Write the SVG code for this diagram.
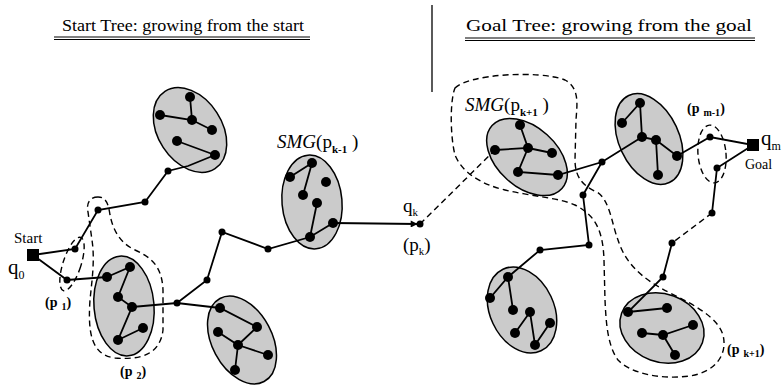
<svg xmlns="http://www.w3.org/2000/svg" width="783" height="386" viewBox="0 0 783 386">
<defs>
<marker id="arr" viewBox="0 0 10 10" refX="9" refY="5" markerWidth="9" markerHeight="7" markerUnits="userSpaceOnUse" orient="auto"><path d="M0,0 L10,5 L0,10 z" fill="#000"/></marker>
</defs>
<style>
.t{font-family:"Liberation Serif","Times New Roman",serif;fill:#000}
.e{fill:#cbcbcb;stroke:#000;stroke-width:1.5}
.l{stroke:#000;stroke-width:1.8;fill:none}
.d{stroke:#000;stroke-width:1.4;fill:none;stroke-dasharray:6 4}
.n{fill:#000}
</style>
<rect width="783" height="386" fill="#fff"/>
<g id="titles">
<text class="t" x="62" y="31" font-size="16" textLength="242" lengthAdjust="spacingAndGlyphs">Start Tree: growing from the start</text>
<line x1="54" y1="37" x2="310" y2="37" stroke="#000" stroke-width="1.2"/>
<line x1="54" y1="39.5" x2="310" y2="39.5" stroke="#000" stroke-width="1.2"/>
<text class="t" x="466" y="31" font-size="16" textLength="286" lengthAdjust="spacingAndGlyphs">Goal Tree: growing from the goal</text>
<line x1="465" y1="38" x2="755" y2="38" stroke="#000" stroke-width="1.2"/>
<line x1="465" y1="40.5" x2="755" y2="40.5" stroke="#000" stroke-width="1.2"/>
<line x1="432" y1="5" x2="432" y2="92" stroke="#000" stroke-width="1.3"/>
</g>
<g id="regions">
<ellipse id="p1-region" class="d" cx="72" cy="264" rx="9" ry="28" transform="rotate(18 72 264)"/>
<path id="p2-region" class="d" d="M98,197 C90,197 86,203 88,212 L92,240 C95,260 92,280 90,300 C88,330 90,355 115,358 C140,360 160,355 163,330 L163,290 C162,265 150,257 135,250 C120,243 113,230 110,215 C108,200 104,197 98,197 Z"/>
<path id="pk1-region" class="d" d="M455,88 C468,74 540,70 565,80 C580,88 577,105 576,120 L575,160 C575,176 582,186 597,192 C610,200 612,225 618,240 C625,262 640,278 670,293 C695,305 718,318 723,335 C728,355 715,372 690,376 C660,380 630,373 618,360 C607,345 606,320 605,300 L604,260 C603,230 595,215 575,205 C560,198 530,196 505,190 C480,184 462,172 455,155 C450,135 450,100 455,88 Z"/>
<ellipse id="pm1-region" class="d" cx="712" cy="154" rx="14" ry="29" transform="rotate(-5 712 154)"/>
</g>
<g id="smg-ellipses">
<ellipse id="e1" class="e" cx="190" cy="130" rx="32" ry="46" transform="rotate(-33 190 130)"/>
<ellipse id="e2" class="e" cx="124" cy="306" rx="30" ry="50" transform="rotate(-5 124 306)"/>
<ellipse id="e3" class="e" cx="242" cy="340" rx="30" ry="47" transform="rotate(-28 242 340)"/>
<ellipse id="e4" class="e" cx="312" cy="202" rx="30" ry="47" transform="rotate(-5 312 202)"/>
<ellipse id="e5" class="e" cx="527" cy="157" rx="30" ry="47" transform="rotate(-48 527 157)"/>
<ellipse id="e6" class="e" cx="649" cy="139" rx="30" ry="48" transform="rotate(-25 649 139)"/>
<ellipse id="e7" class="e" cx="522" cy="310" rx="32" ry="45" transform="rotate(-25 522 310)"/>
<ellipse id="e8" class="e" cx="662" cy="328" rx="43" ry="34" transform="rotate(20 662 328)"/>
</g>
<g id="connectors">
<path class="l" d="M33,255 L75,249 L98,210 L145,202 L168,171 L188,166 L215,155"/>
<path class="l" d="M33,255 L67,280 L107,277"/>
<path class="l" d="M190,97 L192,120 M160,115 L192,120 L212,130 M177,141 L215,155"/>
<path class="l" d="M107,277 L130,267 L118,297 L132,307 L118,340 L143,328"/>
<path class="l" d="M132,307 L177,303 L220,308 L257,327 L238,345 L218,332 M238,345 L268,355 M238,345 L235,370"/>
<path class="l" d="M177,303 L207,280 L222,232 L268,249 L310,237 L333,223 M310,237 L317,203 M312,163 L290,177 M312,163 L303,195"/>
<line class="l" x1="333" y1="223" x2="417" y2="224" marker-end="url(#arr)" stroke-width="1.5"/>
<line class="d" x1="420" y1="224" x2="495" y2="150" stroke-width="1.6"/>
<path class="l" d="M520,125 L528,148 L495,150 M528,148 L552,153 M528,148 L518,172 L558,175 L602,162 L642,137 M602,162 L583,195 L589,245 L540,250 L508,277 L490,298 M508,277 L513,310 M515,333 L530,312 L535,345 L550,323"/>
<path class="l" d="M622,123 L640,103 L642,137 L656,140 L658,175 M656,140 L677,156 L710,137 L753,145 L717,168 L712,213"/>
<line class="d" x1="712" y1="213" x2="672" y2="243" stroke-width="1.8"/>
<path class="l" d="M672,243 L663,277 L628,312 L667,308 M642,333 L663,335 L693,325 M663,335 L675,355"/>
</g>
<g id="nodes">
<rect x="27" y="249" width="12" height="12" class="n"/>
<rect x="747" y="139" width="12" height="12" class="n"/>
<g class="n">
<circle cx="75" cy="249" r="3.5"/><circle cx="67" cy="280" r="3.5"/><circle cx="98" cy="210" r="3.5"/><circle cx="145" cy="202" r="3.5"/><circle cx="168" cy="171" r="3.5"/>
<circle cx="190" cy="97" r="5"/><circle cx="160" cy="115" r="5"/><circle cx="192" cy="120" r="5"/><circle cx="212" cy="130" r="5"/><circle cx="177" cy="141" r="5"/><circle cx="215" cy="155" r="5"/>
<circle cx="107" cy="277" r="5"/><circle cx="130" cy="267" r="5"/><circle cx="118" cy="297" r="5"/><circle cx="132" cy="307" r="5"/><circle cx="143" cy="328" r="5"/><circle cx="118" cy="340" r="5"/>
<circle cx="177" cy="303" r="3.5"/><circle cx="207" cy="280" r="3.5"/><circle cx="222" cy="232" r="3.5"/><circle cx="268" cy="249" r="3.5"/>
<circle cx="220" cy="308" r="5"/><circle cx="257" cy="327" r="5"/><circle cx="218" cy="332" r="5"/><circle cx="238" cy="345" r="5"/><circle cx="268" cy="355" r="5"/><circle cx="235" cy="370" r="5"/>
<circle cx="312" cy="163" r="5"/><circle cx="290" cy="177" r="5"/><circle cx="326" cy="182" r="5"/><circle cx="303" cy="195" r="5"/><circle cx="317" cy="203" r="5"/><circle cx="333" cy="223" r="5"/><circle cx="310" cy="237" r="5"/>
<circle cx="420" cy="224" r="3.5"/>
<circle cx="520" cy="125" r="5"/><circle cx="495" cy="150" r="5"/><circle cx="528" cy="148" r="5"/><circle cx="552" cy="153" r="5"/><circle cx="518" cy="172" r="5"/><circle cx="558" cy="175" r="5"/>
<circle cx="602" cy="162" r="3.5"/><circle cx="583" cy="195" r="3.5"/><circle cx="589" cy="245" r="3.5"/><circle cx="540" cy="250" r="3.5"/>
<circle cx="508" cy="277" r="5"/><circle cx="490" cy="298" r="5"/><circle cx="513" cy="310" r="5"/><circle cx="530" cy="312" r="5"/><circle cx="515" cy="333" r="5"/><circle cx="535" cy="345" r="5"/><circle cx="550" cy="323" r="5"/>
<circle cx="640" cy="103" r="5"/><circle cx="622" cy="123" r="5"/><circle cx="642" cy="137" r="5"/><circle cx="656" cy="140" r="5"/><circle cx="677" cy="156" r="5"/><circle cx="658" cy="175" r="5"/>
<circle cx="710" cy="137" r="3.5"/><circle cx="717" cy="168" r="3.5"/><circle cx="712" cy="213" r="3.5"/><circle cx="672" cy="243" r="3.5"/><circle cx="663" cy="277" r="3.5"/>
<circle cx="628" cy="312" r="5"/><circle cx="667" cy="308" r="5"/><circle cx="693" cy="325" r="5"/><circle cx="642" cy="333" r="5"/><circle cx="663" cy="335" r="5"/><circle cx="675" cy="355" r="5"/>
</g>
</g>
<g id="labels">
<text class="t" x="14" y="243" font-size="15">Start</text>
<text class="t" x="8" y="274" font-size="21">q<tspan font-size="12" dy="5">0</tspan></text>
<text class="t" x="45" y="307" font-size="14" font-weight="bold">(p<tspan font-size="10" dx="4" dy="3">1</tspan><tspan dy="-3">)</tspan></text>
<text class="t" x="120" y="376" font-size="14" font-weight="bold">(p<tspan font-size="10" dx="4" dy="3">2</tspan><tspan dy="-3">)</tspan></text>
<text class="t" x="277" y="148" font-size="19"><tspan font-style="italic">SMG</tspan>(p<tspan font-size="11" font-weight="bold" dy="5">k-1</tspan><tspan dy="-5"> )</tspan></text>
<text class="t" x="403" y="212" font-size="19">q<tspan font-size="11" dy="4">k</tspan></text>
<text class="t" x="403" y="251" font-size="19">(p<tspan font-size="11" dy="4">k</tspan><tspan dy="-4">)</tspan></text>
<text class="t" x="465" y="111" font-size="19"><tspan font-style="italic">SMG</tspan>(p<tspan font-size="11" font-weight="bold" dy="5">k+1</tspan><tspan dy="-5"> )</tspan></text>
<text class="t" x="687" y="113" font-size="14" font-weight="bold">(p<tspan font-size="10" dx="4" dy="3">m-1</tspan><tspan dy="-3">)</tspan></text>
<text class="t" x="761" y="145" font-size="21">q<tspan font-size="12" dy="5">m</tspan></text>
<text class="t" x="745" y="169" font-size="14">Goal</text>
<text class="t" x="727" y="354" font-size="14" font-weight="bold">(p<tspan font-size="10" dx="4" dy="3">k+1</tspan><tspan dy="-3">)</tspan></text>
</g>
</svg>
